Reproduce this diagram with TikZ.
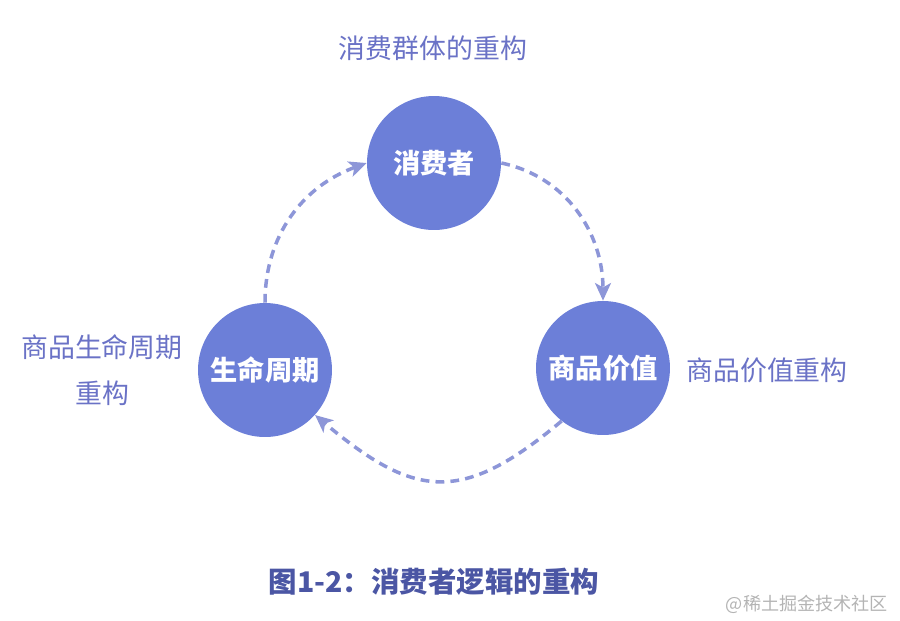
\documentclass[tikz,border=0pt]{standalone}
\usepackage{fontspec}
\setmainfont{Noto Sans CJK SC}
\usepackage{tikz}
\usetikzlibrary{arrows.meta,positioning}
\definecolor{circfill}{HTML}{6C7FD8}
\definecolor{flowline}{HTML}{8D96D8}
\definecolor{notetext}{HTML}{6A72C6}
\definecolor{titletext}{HTML}{4B56A4}
\definecolor{marktext}{HTML}{B4B4B4}

\begin{document}
\begin{tikzpicture}[
  x=0.02cm, y=-0.02cm,
  stage/.style={circle, fill=circfill, minimum size=2.68cm, inner sep=0pt,
                font=\fontsize{15.5}{18}\selectfont\bfseries, text=white},
  flow/.style={-{Stealth[length=10pt, width=9pt, inset=2.5pt]}, line width=2pt,
               dash pattern=on 5pt off 3.5pt, color=flowline},
  note/.style={font=\fontsize{15.3}{26}\selectfont, color=notetext, align=center},
]
  \useasboundingbox (0,0) rectangle (900,620);

  \node[stage] (cons) at (434,163) {消费者};
  \node[stage] (life) at (265,370) {生命周期};
  \node[stage] (value) at (603,368) {商品价值};

  \draw[flow] (life.north) to[out=90, in=200] (cons.west);
  \draw[flow] (cons.east) to[out=-12, in=90] (value.north);
  \draw[flow] (value.-128) to[out=220, in=-40, looseness=1.35] (life.-42);

  \node[note] (consnote) at (433,48) {消费群体的重构};
  \node[note] (lifenote) at (102,370) {商品生命周期\\重构};
  \node[note] (valuenote) at (767,370) {商品价值重构};

  \node[font=\fontsize{16.2}{18}\selectfont\bfseries, color=titletext] (title) at (434,582) {图1-2：消费者逻辑的重构};
  \node[font=\fontsize{10.3}{13}\selectfont, color=marktext, anchor=east] (mark) at (894,604) {@稀土掘金技术社区};
\end{tikzpicture}
\end{document}
